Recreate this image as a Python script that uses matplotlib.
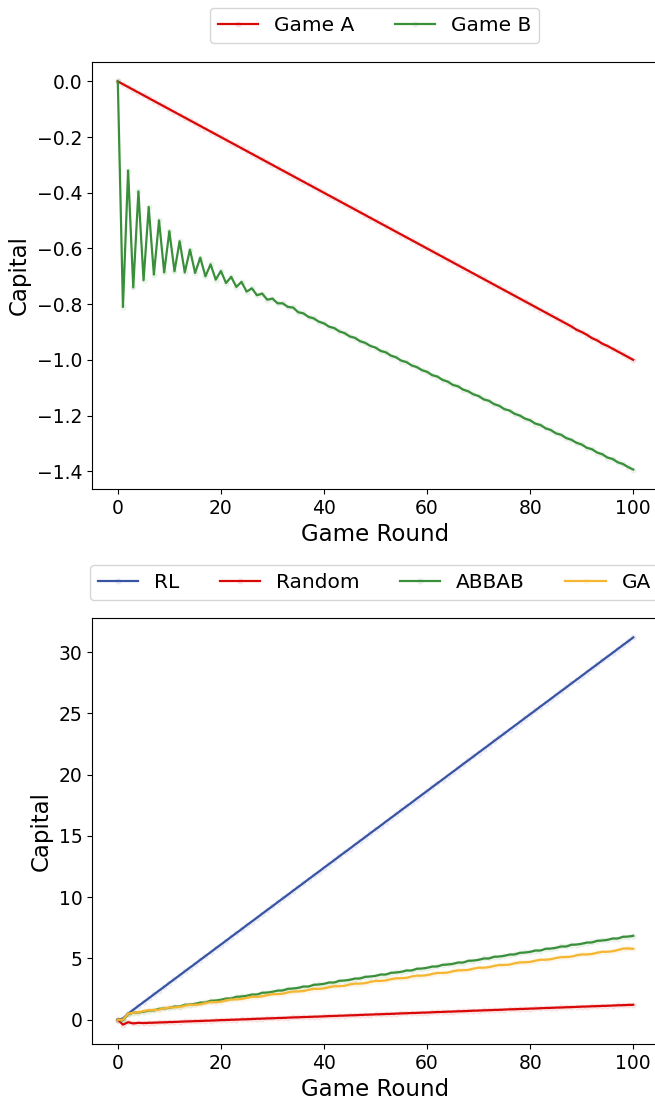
import numpy as np
import matplotlib
matplotlib.use('Agg')
import matplotlib.pyplot as plt

# Game rounds (x axis for every series)
rounds = np.arange(101)

# Top panel: capital of the single games
game_a = [
    0.000, -0.010, -0.020, -0.030, -0.040, -0.050, -0.060, -0.070, -0.080, -0.090,
    -0.100, -0.110, -0.120, -0.130, -0.140, -0.150, -0.160, -0.170, -0.180, -0.190,
    -0.200, -0.210, -0.220, -0.230, -0.240, -0.250, -0.260, -0.270, -0.280, -0.290,
    -0.300, -0.310, -0.320, -0.330, -0.340, -0.350, -0.360, -0.370, -0.380, -0.390,
    -0.400, -0.410, -0.420, -0.430, -0.440, -0.450, -0.460, -0.470, -0.480, -0.490,
    -0.500, -0.510, -0.520, -0.530, -0.540, -0.550, -0.560, -0.570, -0.580, -0.590,
    -0.600, -0.610, -0.620, -0.630, -0.640, -0.650, -0.660, -0.670, -0.680, -0.690,
    -0.700, -0.710, -0.720, -0.730, -0.740, -0.750, -0.760, -0.770, -0.780, -0.790,
    -0.800, -0.810, -0.820, -0.830, -0.840, -0.850, -0.860, -0.870, -0.880, -0.892,
    -0.900, -0.910, -0.922, -0.930, -0.942, -0.950, -0.960, -0.970, -0.980, -0.990,
    -1.000]
game_b = [
    0.000, -0.810, -0.320, -0.740, -0.395, -0.714, -0.451, -0.694, -0.499, -0.686,
    -0.538, -0.682, -0.574, -0.686, -0.604, -0.688, -0.633, -0.700, -0.657, -0.712,
    -0.681, -0.724, -0.702, -0.738, -0.720, -0.755, -0.743, -0.768, -0.762, -0.784,
    -0.780, -0.797, -0.797, -0.810, -0.812, -0.829, -0.833, -0.846, -0.851, -0.863,
    -0.869, -0.881, -0.886, -0.898, -0.904, -0.916, -0.921, -0.933, -0.939, -0.950,
    -0.956, -0.968, -0.973, -0.985, -0.991, -1.003, -1.008, -1.020, -1.026, -1.037,
    -1.043, -1.055, -1.060, -1.072, -1.078, -1.090, -1.095, -1.107, -1.113, -1.124,
    -1.130, -1.142, -1.147, -1.159, -1.165, -1.177, -1.182, -1.194, -1.200, -1.211,
    -1.217, -1.229, -1.234, -1.246, -1.252, -1.264, -1.269, -1.281, -1.287, -1.298,
    -1.304, -1.316, -1.321, -1.333, -1.339, -1.351, -1.356, -1.368, -1.374, -1.385,
    -1.394]

# Bottom panel: capital of the strategies
rl = [
    0.00, 0.10, 0.50, 0.81, 1.13, 1.44, 1.75, 2.07, 2.38, 2.69,
    3.01, 3.32, 3.63, 3.95, 4.26, 4.57, 4.89, 5.20, 5.51, 5.83,
    6.14, 6.45, 6.77, 7.08, 7.39, 7.71, 8.02, 8.33, 8.65, 8.96,
    9.27, 9.59, 9.90, 10.21, 10.53, 10.84, 11.15, 11.47, 11.78, 12.09,
    12.41, 12.72, 13.03, 13.35, 13.66, 13.97, 14.29, 14.60, 14.91, 15.23,
    15.54, 15.85, 16.17, 16.48, 16.79, 17.11, 17.42, 17.73, 18.05, 18.36,
    18.67, 18.99, 19.30, 19.61, 19.93, 20.24, 20.55, 20.87, 21.18, 21.49,
    21.81, 22.12, 22.43, 22.75, 23.06, 23.37, 23.69, 24.00, 24.31, 24.63,
    24.94, 25.25, 25.57, 25.88, 26.19, 26.51, 26.82, 27.13, 27.45, 27.76,
    28.07, 28.39, 28.70, 29.01, 29.33, 29.64, 29.95, 30.27, 30.58, 30.89,
    31.21]
random_ = [
    0.00, -0.40, -0.20, -0.30, -0.25, -0.27, -0.25, -0.24, -0.22, -0.21,
    -0.19, -0.18, -0.16, -0.14, -0.13, -0.11, -0.10, -0.08, -0.07, -0.05,
    -0.03, -0.02, 0.00, 0.01, 0.03, 0.04, 0.06, 0.08, 0.09, 0.11,
    0.12, 0.14, 0.15, 0.17, 0.19, 0.20, 0.22, 0.23, 0.25, 0.26,
    0.28, 0.30, 0.31, 0.33, 0.34, 0.36, 0.37, 0.39, 0.41, 0.42,
    0.44, 0.45, 0.47, 0.48, 0.50, 0.52, 0.53, 0.55, 0.56, 0.58,
    0.59, 0.61, 0.63, 0.64, 0.66, 0.67, 0.69, 0.70, 0.72, 0.74,
    0.75, 0.77, 0.78, 0.80, 0.81, 0.83, 0.85, 0.86, 0.88, 0.89,
    0.91, 0.92, 0.94, 0.96, 0.97, 0.99, 1.00, 1.02, 1.03, 1.05,
    1.07, 1.08, 1.10, 1.11, 1.13, 1.14, 1.16, 1.18, 1.19, 1.21,
    1.22]
abbab = [
    0.00, -0.05, 0.45, 0.57, 0.59, 0.65, 0.75, 0.76, 0.89, 0.92,
    0.97, 1.08, 1.08, 1.22, 1.24, 1.30, 1.40, 1.41, 1.55, 1.57,
    1.63, 1.73, 1.74, 1.87, 1.90, 1.95, 2.06, 2.06, 2.20, 2.22,
    2.28, 2.38, 2.39, 2.52, 2.55, 2.60, 2.71, 2.71, 2.85, 2.88,
    2.93, 3.04, 3.04, 3.18, 3.20, 3.26, 3.36, 3.37, 3.50, 3.53,
    3.58, 3.69, 3.69, 3.83, 3.86, 3.91, 4.02, 4.02, 4.16, 4.18,
    4.24, 4.34, 4.35, 4.48, 4.51, 4.56, 4.67, 4.67, 4.81, 4.83,
    4.89, 5.00, 5.00, 5.14, 5.16, 5.22, 5.32, 5.33, 5.46, 5.49,
    5.54, 5.65, 5.65, 5.79, 5.81, 5.87, 5.98, 5.98, 6.12, 6.14,
    6.20, 6.30, 6.31, 6.44, 6.47, 6.52, 6.63, 6.63, 6.77, 6.79,
    6.85]
ga = [
    0.00, 0.00, 0.50, 0.57, 0.61, 0.71, 0.79, 0.79, 0.82, 0.93,
    1.00, 1.01, 1.04, 1.15, 1.22, 1.22, 1.26, 1.36, 1.44, 1.44,
    1.47, 1.58, 1.65, 1.66, 1.69, 1.79, 1.87, 1.87, 1.91, 2.01,
    2.08, 2.09, 2.12, 2.23, 2.30, 2.31, 2.34, 2.44, 2.52, 2.52,
    2.56, 2.66, 2.73, 2.74, 2.77, 2.88, 2.95, 2.95, 2.99, 3.09,
    3.17, 3.17, 3.21, 3.31, 3.38, 3.39, 3.42, 3.53, 3.60, 3.60,
    3.64, 3.74, 3.82, 3.82, 3.85, 3.96, 4.03, 4.04, 4.07, 4.17,
    4.25, 4.25, 4.29, 4.39, 4.47, 4.47, 4.50, 4.61, 4.68, 4.69,
    4.72, 4.82, 4.90, 4.90, 4.94, 5.04, 5.11, 5.12, 5.15, 5.26,
    5.33, 5.33, 5.37, 5.47, 5.55, 5.55, 5.59, 5.69, 5.80, 5.82,
    5.79]

RED = '#d90808'
GREEN = '#3a8f3a'
BLUE = '#3a54a4'
YELLOW = '#f5b631'


def draw(ax, y, color, label):
    # line with faint round markers at every round
    face = matplotlib.colors.to_rgba(color, 0.08)
    ax.plot(rounds, y, color=color, lw=1.6, label=label,
            marker='o', ms=3.5, mfc=face, mec=face)


fig = plt.figure(figsize=(6.55, 11.09), dpi=100)

# the right edge of both panels lies just past the picture border
ax1 = fig.add_axes([0.1405, 0.5591, 0.8656, 0.3850])
draw(ax1, game_a, RED, 'Game A')
draw(ax1, game_b, GREEN, 'Game B')
ax1.spines['right'].set_visible(False)
ax1.set_xlabel('Game Round', fontsize=16.5)
ax1.set_ylabel('Capital', fontsize=16.5)
ax1.tick_params(labelsize=13.5)
ax1.legend(loc='lower center', bbox_to_anchor=(0.498, 1.045), ncol=2,
           fontsize=14.5, borderaxespad=0)

ax2 = fig.add_axes([0.1405, 0.0586, 0.8656, 0.3841])
draw(ax2, rl, BLUE, 'RL')
draw(ax2, random_, RED, 'Random')
draw(ax2, abbab, GREEN, 'ABBAB')
draw(ax2, ga, YELLOW, 'GA')
ax2.spines['right'].set_visible(False)
ax2.set_xlabel('Game Round', fontsize=16.5)
ax2.set_ylabel('Capital', fontsize=16.5)
ax2.tick_params(labelsize=13.5)
ax2.legend(loc='lower center', bbox_to_anchor=(0.498, 1.042), ncol=4,
           fontsize=14.5, borderaxespad=0)

fig.savefig('out.png', dpi=100)
